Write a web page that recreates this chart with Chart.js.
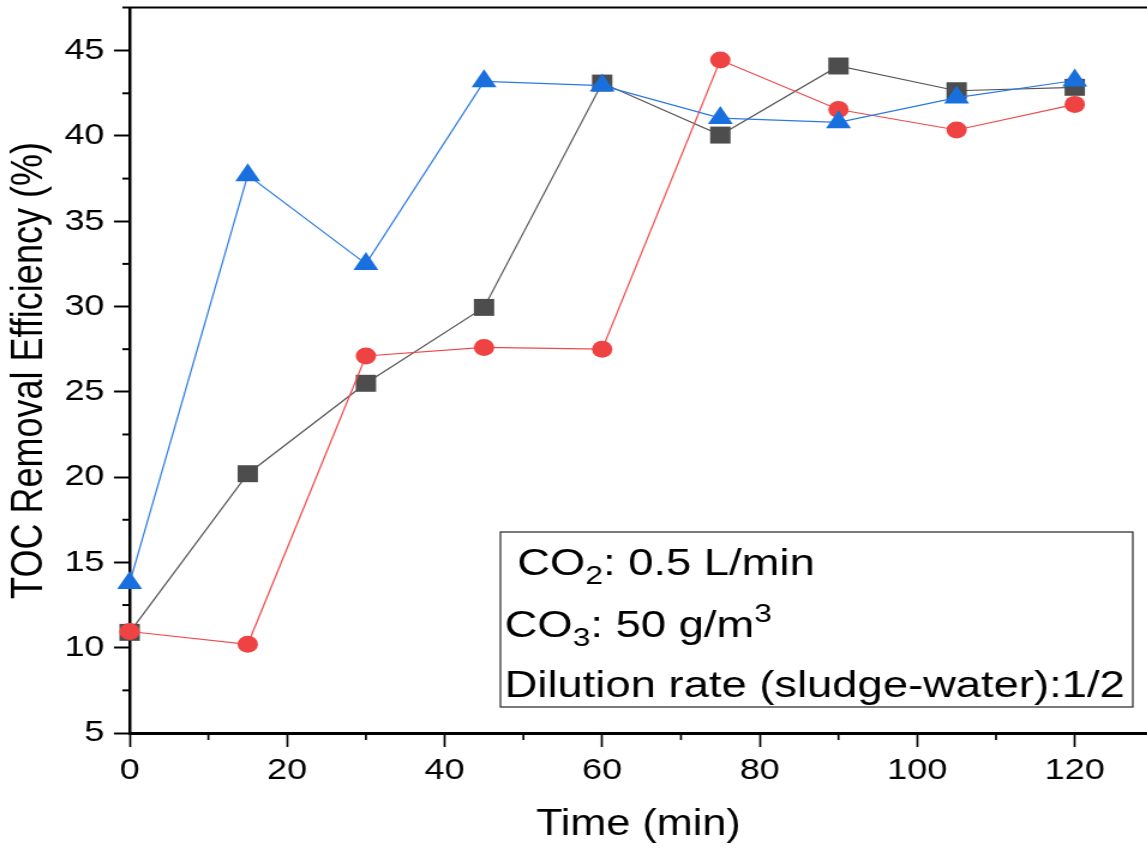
<!DOCTYPE html>
<html>
<head>
<meta charset="utf-8">
<script src="https://cdn.jsdelivr.net/npm/chart.js@4/dist/chart.umd.min.js"></script>
<style>
  html, body { margin: 0; padding: 0; background: #fff; overflow: hidden; }
  /* the original figure is stretched sideways, so the canvas is too */
  #wrap { width: 956px; height: 849px; transform: scaleX(1.2); transform-origin: 0 0; }
</style>
</head>
<body>
<div id="wrap"><canvas id="chart" width="956" height="849"></canvas></div>
<script>
(function(Chart){

    var times = [0, 15, 30, 45, 60, 75, 90, 105, 120];
    var tocBlack = [10.9, 20.2, 25.5, 29.95, 43.1, 40.05, 44.1, 42.65, 42.85];
    var tocRed = [10.95, 10.2, 27.1, 27.6, 27.5, 44.45, 41.55, 40.35, 41.85];
    var tocBlue = [13.8, 37.7, 32.5, 43.2, 42.95, 41.05, 40.8, 42.25, 43.25];

    var xMajor = [0, 20, 40, 60, 80, 100, 120];
    var xMinor = [10, 30, 50, 70, 90, 110];
    var yMajor = [5, 10, 15, 20, 25, 30, 35, 40, 45];
    var yMinor = [7.5, 12.5, 17.5, 22.5, 27.5, 32.5, 37.5, 42.5];

    var noteLines = [
        [{t: ' CO'}, {t: '2', sub: true}, {t: ': 0.5 L/min'}],
        [{t: 'CO'}, {t: '3', sub: true}, {t: ': 50 g/m'}, {t: '3', sup: true}],
        [{t: 'Dilution rate (sludge-water):1/2'}]
    ];

    var fontFamily = '"Liberation Sans", Arial, sans-serif';

    function toPoints(vals) {
        return vals.map(function(v, i) { return {x: times[i], y: v}; });
    }

    // keep chart.js from reserving room for half tick labels
    function noPadding(scale) {
        scale.paddingTop = 0;
        scale.paddingBottom = 0;
        scale.paddingLeft = 0;
        scale.paddingRight = 0;
    }

    var frameAndNote = {
        id: 'frameAndNote',
        afterDraw: function(chart) {
            var ctx = chart.ctx;
            var area = chart.chartArea;
            var xs = chart.scales.x, ys = chart.scales.y;

            ctx.save();
            ctx.strokeStyle = '#000';

            // minor ticks
            ctx.lineWidth = 1.7;
            xMinor.forEach(function(v) {
                var px = xs.getPixelForValue(v);
                ctx.beginPath();
                ctx.moveTo(px, area.bottom);
                ctx.lineTo(px, area.bottom + 7);
                ctx.stroke();
            });
            ctx.lineWidth = 2;
            yMinor.forEach(function(v) {
                var py = ys.getPixelForValue(v);
                ctx.beginPath();
                ctx.moveTo(area.left - 6, py);
                ctx.lineTo(area.left, py);
                ctx.stroke();
            });

            // top frame line
            ctx.lineWidth = 2;
            ctx.beginPath();
            ctx.moveTo(area.left - 6, area.top - 0.5);
            ctx.lineTo(chart.width, area.top - 0.5);
            ctx.stroke();

            // note box
            var right = area.right - 12, bottom = area.bottom - 26;
            var left = right - 527, top = bottom - 175;
            ctx.lineWidth = 1.2;
            ctx.strokeStyle = '#222';
            ctx.strokeRect(left, top, right - left, bottom - top);

            var baselines = [43, 105, 165];
            ctx.fillStyle = '#000';
            ctx.textBaseline = 'alphabetic';
            ctx.textAlign = 'left';
            noteLines.forEach(function(parts, i) {
                var x = left + 3.5;
                var y = top + baselines[i];
                parts.forEach(function(p) {
                    var size = (p.sub || p.sup) ? 26.5 : 37.8;
                    var dy = p.sub ? 9 : (p.sup ? -15 : 0);
                    ctx.font = size + 'px ' + fontFamily;
                    ctx.fillText(p.t, x, y + dy);
                    x += ctx.measureText(p.t).width;
                });
            });
            ctx.restore();
        }
    };

    var ctx = document.getElementById('chart').getContext('2d');

    var chart = new Chart(ctx, {
        type: 'line',
        data: {
            datasets: [{
                label: 'black',
                data: toPoints(tocBlack),
                borderColor: '#555555',
                backgroundColor: '#4d4d4d',
                borderWidth: 1.2,
                pointStyle: 'rect',
                pointRadius: 12,
                pointBorderWidth: 0,
                order: 3,
                clip: false
            }, {
                label: 'red',
                data: toPoints(tocRed),
                borderColor: '#f04848',
                backgroundColor: '#ef4242',
                borderWidth: 1.2,
                pointStyle: 'circle',
                pointRadius: 8.5,
                pointBorderWidth: 0,
                order: 2,
                clip: false
            }, {
                label: 'blue',
                data: toPoints(tocBlue),
                borderColor: '#2a78e4',
                backgroundColor: '#1a6fdf',
                borderWidth: 1.2,
                pointStyle: 'triangle',
                pointRadius: 12,
                pointBorderWidth: 0,
                order: 1,
                clip: false
            }]
        },
        options: {
            responsive: false,
            animation: false,
            devicePixelRatio: 1,
            layout: { autoPadding: false, padding: { top: 8, right: 0, left: 0, bottom: 0 } },
            plugins: {
                legend: { display: false },
                tooltip: { enabled: false }
            },
            elements: { line: { tension: 0 } },
            scales: {
                x: {
                    type: 'linear',
                    min: 0,
                    max: 129.2,
                    z: 1,
                    afterFit: function(scale) { scale.height = 116; noPadding(scale); },
                    afterBuildTicks: function(scale) {
                        scale.ticks = xMajor.map(function(v) { return {value: v}; });
                    },
                    border: { display: true, color: '#000', width: 3 },
                    grid: { drawOnChartArea: false, drawTicks: true, tickLength: 14, tickWidth: 1.7, tickColor: '#000' },
                    ticks: {
                        autoSkip: false,
                        maxRotation: 0,
                        padding: 6,
                        color: '#000',
                        font: { family: fontFamily, size: 30 }
                    },
                    title: {
                        display: true,
                        text: 'Time (min)',
                        color: '#000',
                        font: { family: fontFamily, size: 36, lineHeight: 1 },
                        padding: { top: 0, bottom: 6 }
                    }
                },
                y: {
                    min: 5,
                    max: 47.5,
                    z: 1,
                    afterFit: function(scale) { scale.width = 108; noPadding(scale); },
                    afterBuildTicks: function(scale) {
                        scale.ticks = yMajor.map(function(v) { return {value: v}; });
                    },
                    border: { display: true, color: '#000', width: 2.5 },
                    grid: { drawOnChartArea: false, drawTicks: true, tickLength: 13, tickWidth: 2, tickColor: '#000' },
                    ticks: {
                        padding: 8,
                        color: '#000',
                        font: { family: fontFamily, size: 30 }
                    },
                    title: {
                        display: true,
                        text: 'TOC Removal Efficiency (%)',
                        color: '#000',
                        font: { family: fontFamily, size: 36, lineHeight: 1 },
                        padding: { top: 7, bottom: 0 }
                    }
                }
            }
        },
        plugins: [frameAndNote]
    });

})(Chart);
</script>
</body>
</html>
